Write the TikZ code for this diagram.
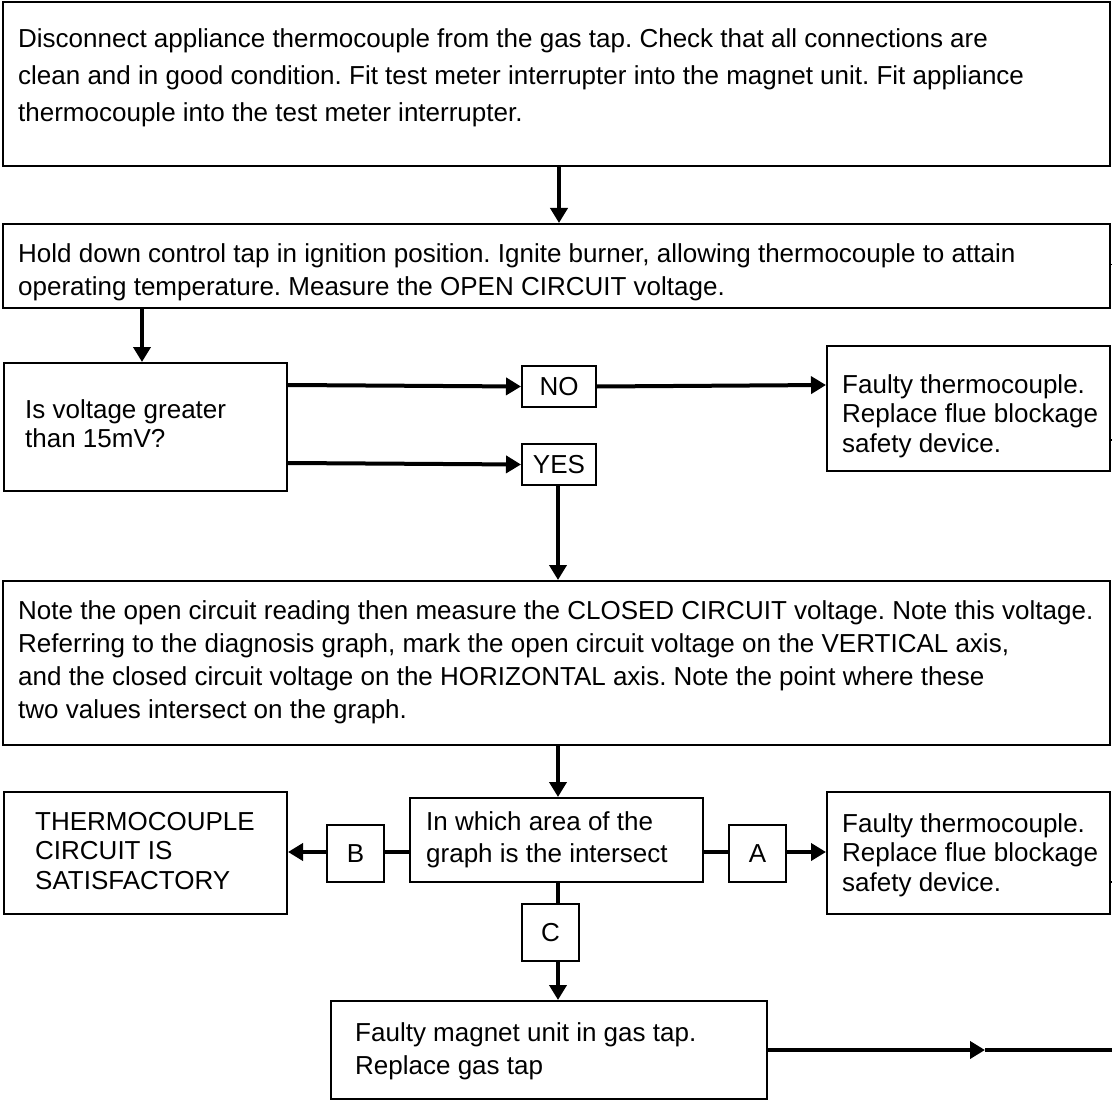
\documentclass[tikz,border=0pt]{standalone}
\usepackage{fontspec}
\setmainfont{Liberation Sans}
\usetikzlibrary{arrows.meta}
\frenchspacing
\begin{document}
\begin{tikzpicture}[x=1pt,y=-1pt,
  box/.style={draw,line width=2pt,rectangle,inner sep=0pt,anchor=north west},
  txt/.style={anchor=north west,inner sep=0pt,align=left,font=\fontsize{26}{33}\selectfont},
  txtb/.style={txt,font=\fontsize{26}{29.5}\selectfont},
  conn/.style={line width=4pt},
  arr/.style={conn,-{Triangle[length=15pt,width=17pt]}},
  lbl/.style={draw,line width=2pt,inner sep=0pt,anchor=north west,font=\fontsize{26}{30}\selectfont},
  tick/.style={line width=1pt}]
\useasboundingbox (0,0) rectangle (1112,1102);
% boxes
\node[box,minimum width=1107pt,minimum height=164pt] (b1) at (2,1) {};
\node[txt,font=\fontsize{26}{37}\selectfont] (t1) at (18,28) {Disconnect appliance thermocouple from the gas tap. Check that all connections are\\clean and in good condition. Fit test meter interrupter into the magnet unit. Fit appliance\\thermocouple into the test meter interrupter.};
\node[box,minimum width=1107pt,minimum height=84pt] (b2) at (2,223) {};
\node[txt] (t2) at (18,243) {Hold down control tap in ignition position. Ignite burner, allowing thermocouple to attain\\operating temperature. Measure the OPEN CIRCUIT voltage.};
\node[box,minimum width=283pt,minimum height=128pt] (b3) at (3,362) {};
\node[txtb] (t3) at (25,399) {Is voltage greater\\than 15mV?};
\node[lbl,minimum width=74pt,minimum height=41pt] (no) at (521,365) {NO};
\node[lbl,minimum width=74pt,minimum height=41pt] (yes) at (521,443) {YES};
\node[box,minimum width=283pt,minimum height=125pt] (f1) at (826,345) {};
\node[txtb] (tf1) at (842,374) {Faulty thermocouple.\\Replace flue blockage\\safety device.};
\node[box,minimum width=1107pt,minimum height=164pt] (b4) at (2,580) {};
\node[txt] (t4) at (18,600) {Note the open circuit reading then measure the CLOSED CIRCUIT voltage. Note this voltage.\\Referring to the diagnosis graph, mark the open circuit voltage on the VERTICAL axis,\\and the closed circuit voltage on the HORIZONTAL axis. Note the point where these\\two values intersect on the graph.};
\node[box,minimum width=283pt,minimum height=122pt] (lb) at (3,791) {};
\node[txtb] (tlb) at (35,812) {THERMOCOUPLE\\CIRCUIT IS\\SATISFACTORY};
\node[box,minimum width=293pt,minimum height=84pt] (cb) at (409,797) {};
\node[txt,font=\fontsize{26}{32}\selectfont] (tcb) at (426,811) {In which area of the\\graph is the intersect};
\node[lbl,minimum width=57pt,minimum height=57pt] (bb) at (326,824) {B};
\node[lbl,minimum width=57pt,minimum height=57pt] (ab) at (728,824) {A};
\node[box,minimum width=283pt,minimum height=122pt] (f2) at (826,791) {};
\node[txtb] (tf2) at (842,813) {Faulty thermocouple.\\Replace flue blockage\\safety device.};
\node[lbl,minimum width=57pt,minimum height=57pt] (cc) at (521,903) {C};
\node[box,minimum width=436pt,minimum height=98pt] (bot) at (330,1000) {};
\node[txt] (tbot) at (355,1022) {Faulty magnet unit in gas tap.\\Replace gas tap};
% helper coordinates
\coordinate (xa) at (559,0);
\coordinate (xb) at (142,0);
\coordinate (xc) at (558,0);
\coordinate (yno) at (0,385);
\coordinate (yyes) at (0,463);
\coordinate (ymid) at (0,852);
\coordinate (ybot) at (0,1050);
\coordinate (mid) at (985,1050);
\coordinate (edge) at (1112,1050);
% connectors
\draw[arr] (b1.south -| xa) -- (b2.north -| xa);
\draw[arr] (b2.south -| xb) -- (b3.north -| xb);
\draw[arr] (b3.east |- yno) -- (no.west);
\draw[arr] (no.east) -- (f1.west |- yno);
\draw[arr] (b3.east |- yyes) -- (yes.west);
\draw[arr] (yes.south -| xc) -- (b4.north -| xc);
\draw[arr] (b4.south -| xc) -- (cb.north -| xc);
\draw[conn] (cb.west |- ymid) -- (bb.east |- ymid);
\draw[arr] (bb.west |- ymid) -- (lb.east |- ymid);
\draw[conn] (cb.east |- ymid) -- (ab.west |- ymid);
\draw[arr] (ab.east |- ymid) -- (f2.west |- ymid);
\draw[conn] (cb.south -| xc) -- (cc.north -| xc);
\draw[arr] (cc.south -| xc) -- (bot.north -| xc);
\draw[arr] (bot.east |- ybot) -- (mid);
\draw[conn] (mid) -- (edge);
% stubs at right edge
\coordinate (s1) at (1112,265);
\coordinate (s2) at (1112,440);
\coordinate (s3) at (1112,882);
\draw[tick] (b2.east |- s1) -- (s1);
\draw[line width=2pt] (f1.east |- s2) -- (s2);
\draw[line width=2pt] (f2.east |- s3) -- (s3);
\end{tikzpicture}
\end{document}
